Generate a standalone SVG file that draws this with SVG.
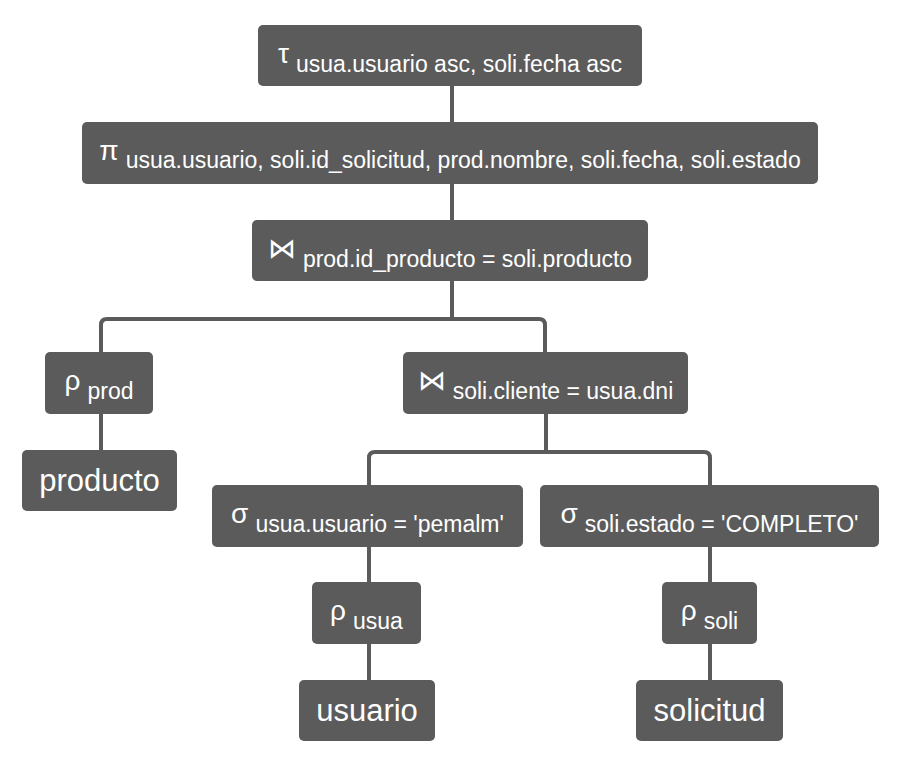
<svg xmlns="http://www.w3.org/2000/svg" width="904" height="767" viewBox="0 0 904 767">
<style>
.box{fill:#5b5b5b}
.t{fill:#ffffff;font-family:"Liberation Sans",Arial,sans-serif;text-anchor:middle}
.op{font-size:28px}
.sub{font-size:23px}
.big{font-size:31px}
.c{fill:none;stroke:#5b5b5b;stroke-width:4;stroke-linejoin:round}
</style>
<rect width="904" height="767" fill="#ffffff"/>
<g id="connectors">
<path class="c" d="M452 86V122"/>
<path class="c" d="M452 184V220"/>
<path class="c" d="M452 281V319"/>
<path class="c" d="M101 352V325Q101 319 107 319H539Q545 319 545 325V352"/>
<path class="c" d="M546 414V452"/>
<path class="c" d="M369 485V458Q369 452 375 452H704Q710 452 710 458V485"/>
<path class="c" d="M101 414V450"/>
<path class="c" d="M369 547V582"/>
<path class="c" d="M369 644V680"/>
<path class="c" d="M710 547V582"/>
<path class="c" d="M710 644V680"/>
</g>
<g id="n_tau">
<rect class="box" x="258" y="25" width="384" height="61" rx="5"/>
<text class="t" x="450" y="63"><tspan class="op">τ</tspan><tspan class="sub" dx="7" dy="9">usua.usuario asc, soli.fecha asc</tspan></text>
</g>
<g id="n_pi">
<rect class="box" x="82" y="122" width="736" height="62" rx="5"/>
<text class="t" x="450" y="160"><tspan class="op">π</tspan><tspan class="sub" dx="7" dy="8">usua.usuario, soli.id_solicitud, prod.nombre, soli.fecha, soli.estado</tspan></text>
</g>
<g id="n_join1">
<rect class="box" x="252" y="220" width="396" height="61" rx="5"/>
<text class="t" x="450" y="258"><tspan class="op">⋈</tspan><tspan class="sub" dx="7" dy="9">prod.id_producto = soli.producto</tspan></text>
</g>
<g id="n_rho_prod">
<rect class="box" x="45" y="352" width="108" height="62" rx="5"/>
<text class="t" x="99" y="390"><tspan class="op">ρ</tspan><tspan class="sub" dx="7" dy="9">prod</tspan></text>
</g>
<g id="n_producto">
<rect class="box" x="22" y="450" width="155" height="61" rx="5"/>
<text class="t big" x="99.5" y="491">producto</text>
</g>
<g id="n_join2">
<rect class="box" x="403" y="352" width="285" height="62" rx="5"/>
<text class="t" x="545.5" y="390"><tspan class="op">⋈</tspan><tspan class="sub" dx="7" dy="9">soli.cliente = usua.dni</tspan></text>
</g>
<g id="n_sigma1">
<rect class="box" x="212" y="485" width="311" height="62" rx="5"/>
<text class="t" x="367.5" y="523"><tspan class="op">σ</tspan><tspan class="sub" dx="7" dy="9">usua.usuario = 'pemalm'</tspan></text>
</g>
<g id="n_sigma2">
<rect class="box" x="540" y="485" width="339" height="62" rx="5"/>
<text class="t" x="709.5" y="523"><tspan class="op">σ</tspan><tspan class="sub" dx="7" dy="9">soli.estado = 'COMPLETO'</tspan></text>
</g>
<g id="n_rho_usua">
<rect class="box" x="312" y="582" width="109" height="62" rx="5"/>
<text class="t" x="366.5" y="620"><tspan class="op">ρ</tspan><tspan class="sub" dx="7" dy="9">usua</tspan></text>
</g>
<g id="n_usuario">
<rect class="box" x="299" y="680" width="136" height="61" rx="5"/>
<text class="t big" x="367" y="721">usuario</text>
</g>
<g id="n_rho_soli">
<rect class="box" x="662" y="582" width="95" height="62" rx="5"/>
<text class="t" x="709.5" y="620"><tspan class="op">ρ</tspan><tspan class="sub" dx="7" dy="9">soli</tspan></text>
</g>
<g id="n_solicitud">
<rect class="box" x="636" y="680" width="147" height="61" rx="5"/>
<text class="t big" x="709.5" y="721">solicitud</text>
</g>
</svg>
